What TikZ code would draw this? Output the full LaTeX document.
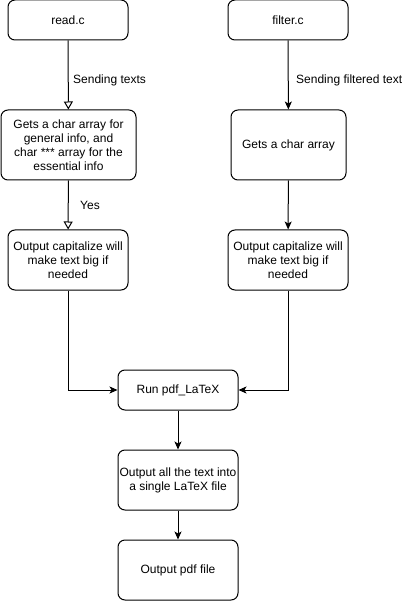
\documentclass[tikz,border=0pt]{standalone}
\usepackage{fontspec}
\setmainfont{Liberation Sans}
\usetikzlibrary{positioning,arrows.meta}

\tikzset{
    stepbox/.style={draw=black, line width=1pt, rounded corners=7pt, fill=white,
        align=center, inner sep=1pt, font=\fontsize{12}{14}\selectfont},
    flow/.style={-{Stealth[length=8pt,width=7pt,inset=2pt]}, line width=1pt},
    openflow/.style={-{Triangle[open,length=8pt,width=9pt]}, line width=1pt},
    lbl/.style={anchor=west, inner sep=0pt, font=\fontsize{12}{14}\selectfont}
}

\begin{document}
\begin{tikzpicture}[x=1pt,y=-1pt]
    \useasboundingbox (0,0) rectangle (409,601);

    %% left column
    \node[stepbox, minimum width=120pt, minimum height=40pt] (read) at (68,20) {read.c};
    \node[stepbox, minimum width=135pt, minimum height=70pt] (getsL) at (68.5,145)
        {Gets a char array for\\ general info, and\\ char *** array for the\\ essential info};
    \node[stepbox, minimum width=120pt, minimum height=60pt] (outL) at (68,260)
        {Output capitalize will\\ make text big if\\ needed};

    %% right column
    \node[stepbox, minimum width=120pt, minimum height=40pt] (filter) at (288,20) {filter.c};
    \node[stepbox, minimum width=115pt, minimum height=70pt] (getsR) at (288.5,145) {Gets a char array};
    \node[stepbox, minimum width=120pt, minimum height=60pt] (outR) at (288,260)
        {Output capitalize will\\ make text big if\\ needed};

    %% merged part
    \node[stepbox, minimum width=120pt, minimum height=40pt] (run) at (178,390) {Run pdf\_LaTeX};
    \node[stepbox, minimum width=120pt, minimum height=60pt] (single) at (178,480)
        {Output all the text into\\ a single LaTeX file};
    \node[stepbox, minimum width=120pt, minimum height=60pt] (pdf) at (178,570) {Output pdf file};

    %% labels
    \node[lbl] (sendL) at (73,80) {Sending texts};
    \node[lbl] (yes) at (80,205) {Yes};
    \node[lbl] (sendR) at (296,80) {Sending filtered text};

    %% connectors
    \draw[openflow] (read) -- (getsL);
    \draw[openflow] (getsL) -- (outL);
    \draw[flow] (filter) -- (getsR);
    \draw[flow] (getsR) -- (outR);
    \draw[flow] (outL.south) |- (run.west);
    \draw[flow] (outR.south) |- (run.east);
    \draw[flow] (run) -- (single);
    \draw[flow] (single) -- (pdf);
\end{tikzpicture}
\end{document}
